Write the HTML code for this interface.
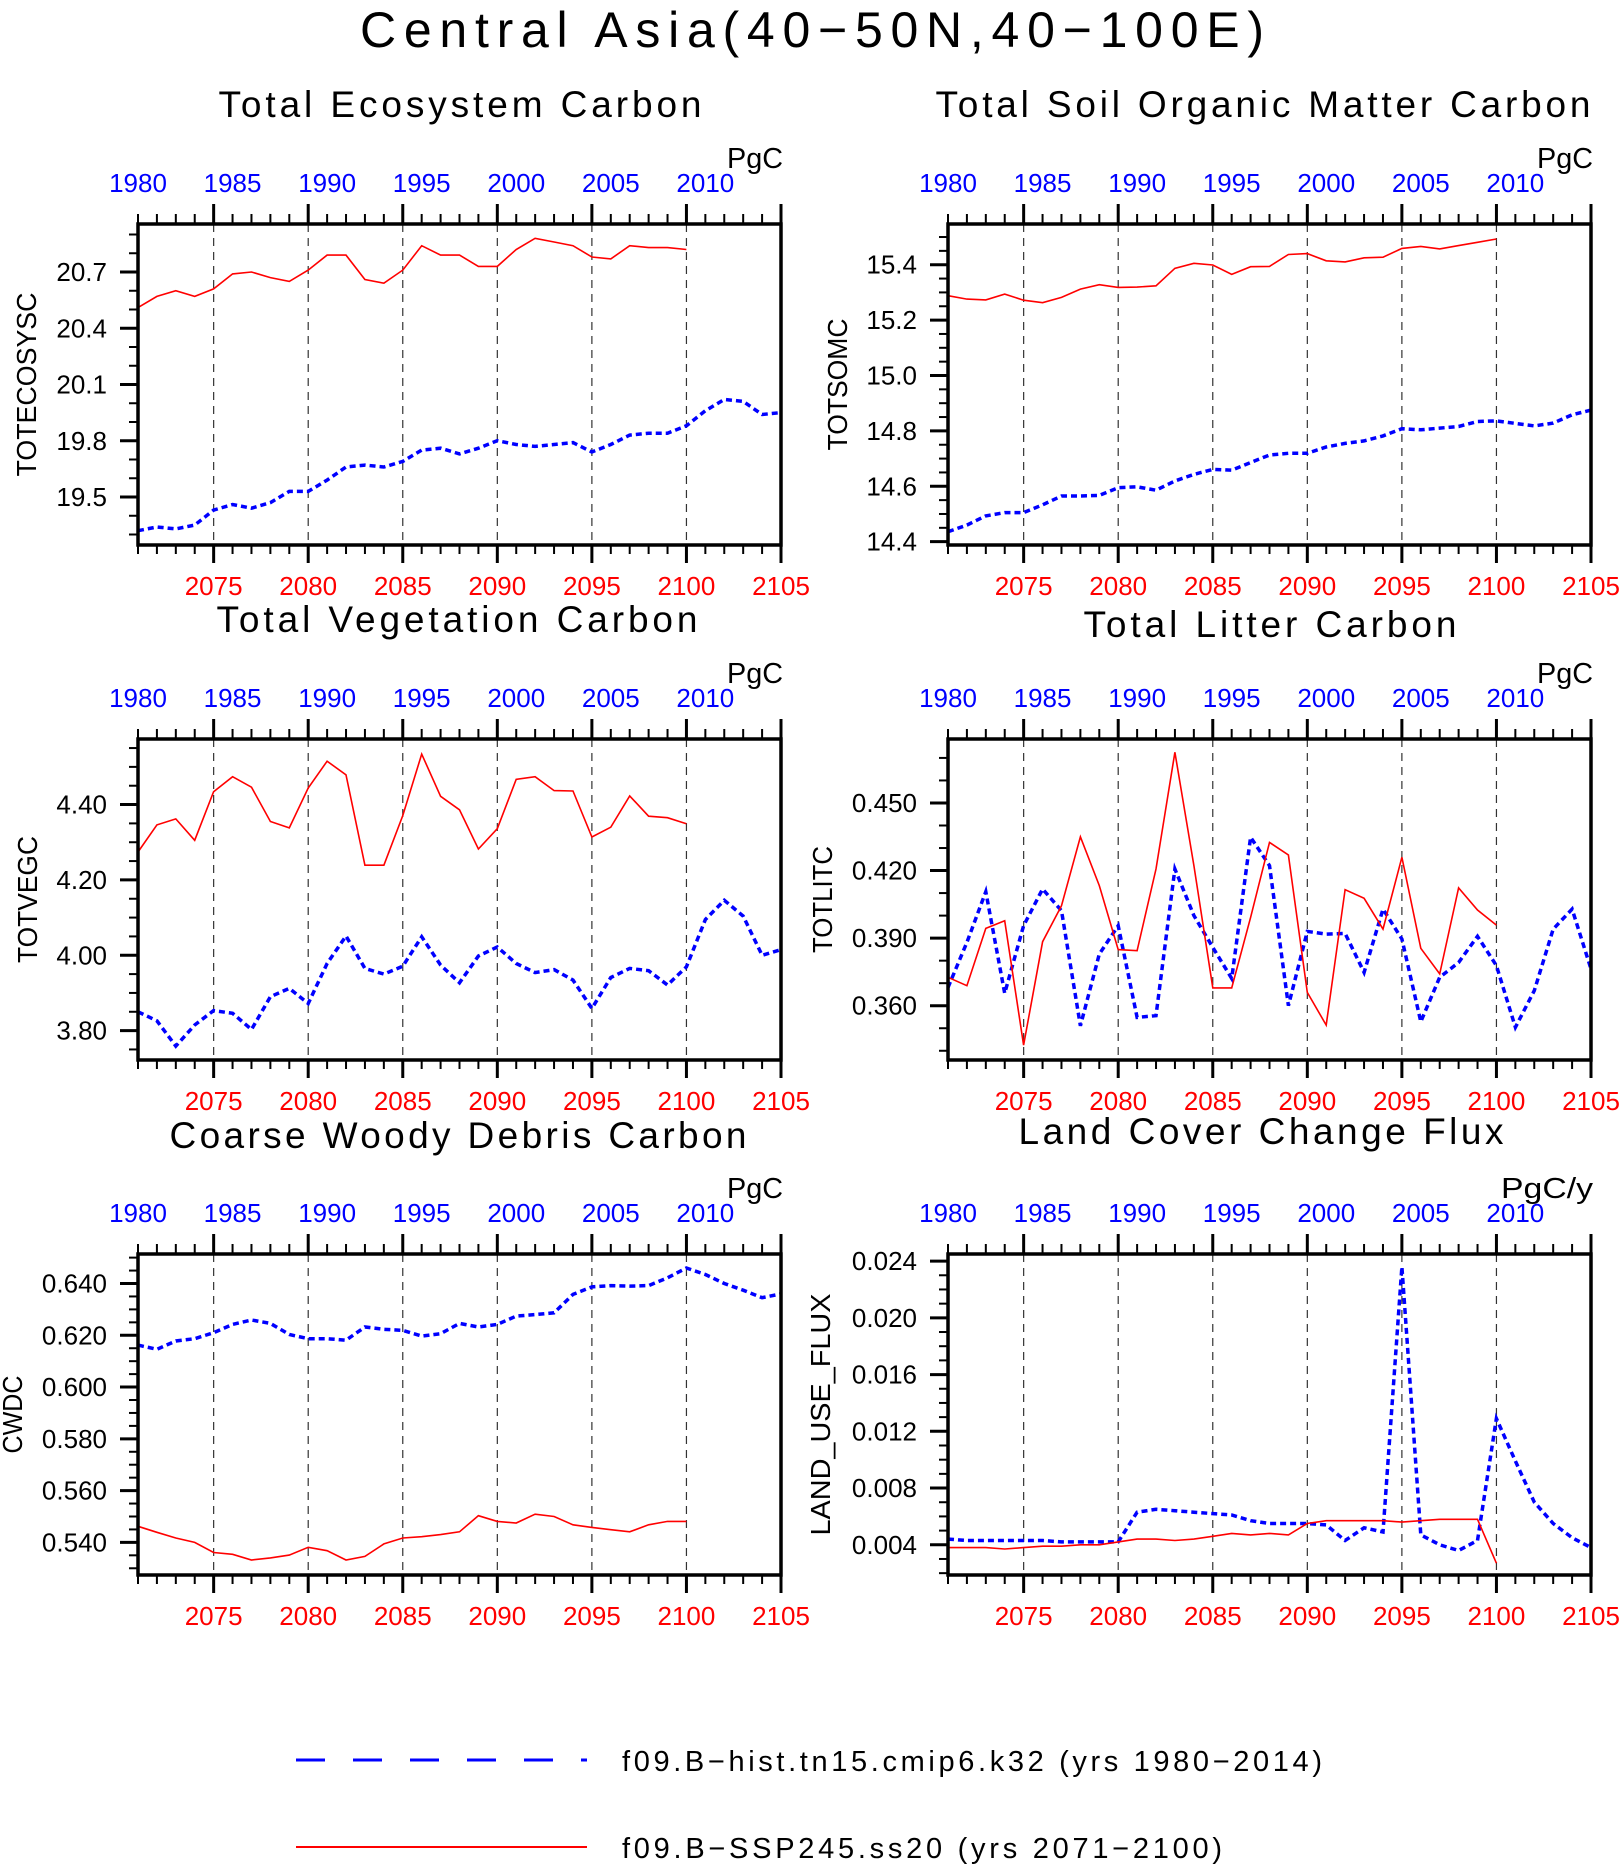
<!DOCTYPE html>
<html><head><meta charset="utf-8"><title>Central Asia carbon</title>
<style>
html,body{margin:0;padding:0;background:#fff;}
svg{display:block;font-family:"Liberation Sans",sans-serif;}
</style></head>
<body>
<svg id="chart" xmlns="http://www.w3.org/2000/svg" width="1620" height="1864" viewBox="0 0 1620 1864">
<rect x="0" y="0" width="1620" height="1864" fill="#fff"/>
<text x="812" y="47" font-size="50" text-anchor="middle" textLength="904" lengthAdjust="spacing">Central Asia(40−50N,40−100E)</text>
<g>
<line x1="296" y1="1760" x2="587" y2="1760" stroke="#0000ff" stroke-width="3" stroke-dasharray="29 28"/>
<text x="622" y="1771" font-size="29" textLength="700" lengthAdjust="spacing">f09.B−hist.tn15.cmip6.k32 (yrs 1980−2014)</text>
<line x1="296" y1="1847" x2="587" y2="1847" stroke="#ff0000" stroke-width="2"/>
<text x="622" y="1858" font-size="29" textLength="600" lengthAdjust="spacing">f09.B−SSP245.ss20 (yrs 2071−2100)</text>
</g>
</svg>
<script>
// ---- data ----
const firstYear = 2071;
const lastYear = 2105;
const topYearOffset = 91;

const ecoHist = [19.32,19.34,19.33,19.35,19.43,19.46,19.44,19.47,19.53,19.53,19.59,19.66,19.67,19.66,19.69,19.75,19.76,19.73,19.76,19.80,19.78,19.77,19.78,19.79,19.74,19.78,19.83,19.84,19.84,19.88,19.96,20.02,20.01,19.94,19.95];
const ecoSsp = [20.51,20.57,20.60,20.57,20.61,20.69,20.70,20.67,20.65,20.71,20.79,20.79,20.66,20.64,20.71,20.84,20.79,20.79,20.73,20.73,20.82,20.88,20.86,20.84,20.78,20.77,20.84,20.83,20.83,20.82];

const somHist = [14.436,14.460,14.493,14.505,14.505,14.533,14.565,14.565,14.567,14.595,14.598,14.586,14.619,14.643,14.661,14.658,14.686,14.713,14.719,14.719,14.742,14.755,14.764,14.782,14.808,14.804,14.810,14.816,14.834,14.836,14.827,14.818,14.828,14.858,14.875];
const somSsp = [15.288,15.276,15.273,15.294,15.272,15.263,15.282,15.312,15.328,15.318,15.319,15.324,15.387,15.405,15.399,15.365,15.393,15.394,15.437,15.440,15.414,15.410,15.425,15.427,15.459,15.466,15.457,15.469,15.481,15.493];

const vegHist = [3.850,3.826,3.759,3.815,3.853,3.846,3.803,3.890,3.912,3.872,3.978,4.051,3.965,3.950,3.971,4.049,3.974,3.927,3.998,4.022,3.978,3.954,3.962,3.934,3.859,3.941,3.965,3.959,3.921,3.969,4.095,4.146,4.104,4.000,4.015];
const vegSsp = [4.274,4.346,4.362,4.305,4.434,4.474,4.446,4.355,4.338,4.444,4.515,4.479,4.239,4.239,4.371,4.534,4.422,4.386,4.282,4.336,4.467,4.474,4.437,4.436,4.314,4.340,4.423,4.369,4.365,4.349];

const litHist = [0.3681,0.3881,0.4106,0.3655,0.3955,0.4118,0.4022,0.3511,0.3829,0.3955,0.3548,0.3556,0.4207,0.4000,0.3859,0.3721,0.4348,0.4222,0.3600,0.3930,0.3918,0.3921,0.3748,0.4029,0.3896,0.3529,0.3726,0.3792,0.3908,0.3778,0.3504,0.3667,0.3940,0.4029,0.3763];
const litSsp = [0.3726,0.3689,0.3943,0.3977,0.3425,0.3884,0.4044,0.4350,0.4133,0.3849,0.3844,0.4207,0.4725,0.4222,0.3679,0.3679,0.3992,0.4325,0.4269,0.3659,0.3514,0.4115,0.4077,0.3940,0.4259,0.3855,0.3741,0.4123,0.4025,0.3958];

const cwdHist = [0.6162,0.6146,0.6178,0.6187,0.6210,0.6242,0.6259,0.6246,0.6203,0.6187,0.6187,0.6181,0.6232,0.6223,0.6219,0.6197,0.6206,0.6246,0.6232,0.6242,0.6274,0.6280,0.6287,0.6358,0.6387,0.6392,0.6390,0.6392,0.6422,0.6460,0.6435,0.6400,0.6374,0.6345,0.6360];
const cwdSsp = [0.5462,0.5439,0.5417,0.5400,0.5361,0.5354,0.5332,0.5340,0.5351,0.5381,0.5368,0.5332,0.5346,0.5394,0.5417,0.5422,0.5430,0.5441,0.5503,0.5481,0.5475,0.5509,0.5500,0.5468,0.5458,0.5449,0.5441,0.5468,0.5481,0.5481];

const lucHist = [0.0044,0.0043,0.0043,0.0043,0.0043,0.0043,0.0042,0.0042,0.0042,0.0042,0.0063,0.0065,0.0064,0.0063,0.0062,0.0061,0.0057,0.0055,0.0055,0.0055,0.0054,0.0043,0.0052,0.0049,0.0236,0.0047,0.0040,0.0036,0.0043,0.0129,0.0099,0.0070,0.0055,0.0045,0.0038];
const lucSsp = [0.0038,0.0038,0.0038,0.0037,0.0038,0.0039,0.0039,0.0040,0.0040,0.0042,0.0044,0.0044,0.0043,0.0044,0.0046,0.0048,0.0047,0.0048,0.0047,0.0055,0.0057,0.0057,0.0057,0.0057,0.0056,0.0057,0.0058,0.0058,0.0058,0.0027];

const panelTitles = ["Total Ecosystem Carbon","Total Soil Organic Matter Carbon","Total Vegetation Carbon","Total Litter Carbon","Coarse Woody Debris Carbon","Land Cover Change Flux"];
const yTitles = ["TOTECOSYSC","TOTSOMC","TOTVEGC","TOTLITC","CWDC","LAND_USE_FLUX"];
const units = ["PgC","PgC","PgC","PgC","PgC","PgC/y"];

// ---- layout (not data) ----
const panels = [
 {key:'eco',L:138,T:224,hist:ecoHist,ssp:ecoSsp,ymin:19.244,ymax:20.956,maj:0.3,majStart:19.5,min:0.1,dec:1,tx:460,ty:117,tw:483,yx:26,yl:184,uw:56},
 {key:'som',L:948,T:224,hist:somHist,ssp:somSsp,ymin:14.388,ymax:15.547,maj:0.2,majStart:14.4,min:0.05,dec:1,tx:1263,ty:117,tw:655,yx:837,yl:132,uw:56},
 {key:'veg',L:138,T:739,hist:vegHist,ssp:vegSsp,ymin:3.722,ymax:4.574,maj:0.2,majStart:3.8,min:0.05,dec:2,tx:457,ty:632,tw:481,yx:27,yl:127,uw:56},
 {key:'lit',L:948,T:739,hist:litHist,ssp:litSsp,ymin:0.3359,ymax:0.4784,maj:0.03,majStart:0.36,min:0.01,dec:3,tx:1270,ty:637,tw:373,yx:822,yl:107,uw:56},
 {key:'cwd',L:138,T:1254,hist:cwdHist,ssp:cwdSsp,ymin:0.5274,ymax:0.6514,maj:0.02,majStart:0.54,min:0.005,dec:3,tx:458,ty:1148,tw:577,yx:12,yl:78,uw:56},
 {key:'luc',L:948,T:1254,hist:lucHist,ssp:lucSsp,ymin:0.00187,ymax:0.0245,maj:0.004,majStart:0.004,min:0.001,dec:3,tx:1261,ty:1144,tw:485,yx:820,yl:242,uw:92}
];
const PW = 643, PH = 321;

const NS = 'http://www.w3.org/2000/svg';
const svg = document.getElementById('chart');
function mk(tag, parent, attrs){
  const e = document.createElementNS(NS, tag);
  for (const k in attrs) e.setAttribute(k, attrs[k]);
  parent.appendChild(e);
  return e;
}

panels.forEach(function(p, i){
  const xs = function(yr){ return p.L + (yr - firstYear) / (lastYear - firstYear) * PW; };
  const ys = function(v){ return p.T + PH - (v - p.ymin) / (p.ymax - p.ymin) * PH; };
  const R = p.L + PW, B = p.T + PH;

  const g = mk('g', svg, {});
  
  

  const t = mk('text', g, {x:p.tx, y:p.ty, 'font-size':37, 'text-anchor':'middle', textLength:p.tw, lengthAdjust:'spacing'});
  t.textContent = panelTitles[i];
  
  

  const u = mk('text', g, {x:R + 2, y:p.T - 56, 'font-size':29, 'text-anchor':'end', textLength:p.uw, lengthAdjust:'spacingAndGlyphs'});
  u.textContent = units[i];
  
  

  const yc = p.T + PH / 2;
  const yt = mk('text', g, {x:p.yx + 10, y:yc, 'font-size':28, 'text-anchor':'middle', transform:'rotate(-90 ' + (p.yx + 10) + ' ' + yc + ')', textLength:p.yl, lengthAdjust:'spacingAndGlyphs'});
  yt.textContent = yTitles[i];
  
  

  for (let yr = 2075; yr <= 2100; yr += 5) {
    const gl = mk('line', g, {x1:xs(yr), y1:p.T, x2:xs(yr), y2:B, stroke:'#333', 'stroke-width':1.2, 'stroke-dasharray':'8 6'});
    
    
  }

  for (let yr = firstYear; yr <= lastYear; yr++) {
    const major = (yr % 5 === 0);
    const len = major ? 18 : 9;
    const tb = mk('line', g, {x1:xs(yr), y1:B, x2:xs(yr), y2:B + len, stroke:'#000', 'stroke-width':major ? 3 : 2});
    
    
    const tt = mk('line', g, {x1:xs(yr), y1:p.T, x2:xs(yr), y2:p.T - (major ? 20 : 10), stroke:'#000', 'stroke-width':major ? 3 : 2});
    
    
    if (major) {
      const bl = mk('text', g, {x:xs(yr), y:B + 50, 'font-size':26, fill:'#ff0000', 'text-anchor':'middle'});
      bl.textContent = String(yr);
      
      
    }
    if ((yr - topYearOffset) % 5 === 0 && yr - topYearOffset <= 2010) {
      const tl = mk('text', g, {x:xs(yr), y:p.T - 32, 'font-size':26, fill:'#0000ff', 'text-anchor':'middle'});
      tl.textContent = String(yr - topYearOffset);
      
      
    }
  }

  const n0 = Math.ceil(p.ymin / p.min - 1e-6), n1 = Math.floor(p.ymax / p.min + 1e-6);
  const ratio = Math.round(p.maj / p.min);
  const mOff = Math.round(p.majStart / p.min);
  for (let n = n0; n <= n1; n++) {
    const v = n * p.min;
    const major = ((n - mOff) % ratio === 0);
    const ty = ys(v);
    const tk = mk('line', g, {x1:p.L, y1:ty, x2:p.L - (major ? 18 : 9), y2:ty, stroke:'#000', 'stroke-width':major ? 3 : 2});
    
    
    if (major) {
      const lb = mk('text', g, {x:p.L - 31, y:ty + 9, 'font-size':26, 'text-anchor':'end'});
      lb.textContent = v.toFixed(p.dec);
      
      
    }
  }

  const hp = p.hist.map(function(v, k){ return xs(firstYear + k).toFixed(1) + ',' + ys(v).toFixed(1); }).join(' ');
  const hl = mk('polyline', g, {points:hp, fill:'none', stroke:'#0000ff', 'stroke-width':3.5, 'stroke-dasharray':'6 4'});
  
  
  const sp = p.ssp.map(function(v, k){ return xs(firstYear + k).toFixed(1) + ',' + ys(v).toFixed(1); }).join(' ');
  const sl = mk('polyline', g, {points:sp, fill:'none', stroke:'#ff0000', 'stroke-width':1.6});
  
  

  const fr = mk('rect', g, {x:p.L, y:p.T, width:PW, height:PH, fill:'none', stroke:'#000', 'stroke-width':3.5});
  
  
});
</script>
</body></html>
